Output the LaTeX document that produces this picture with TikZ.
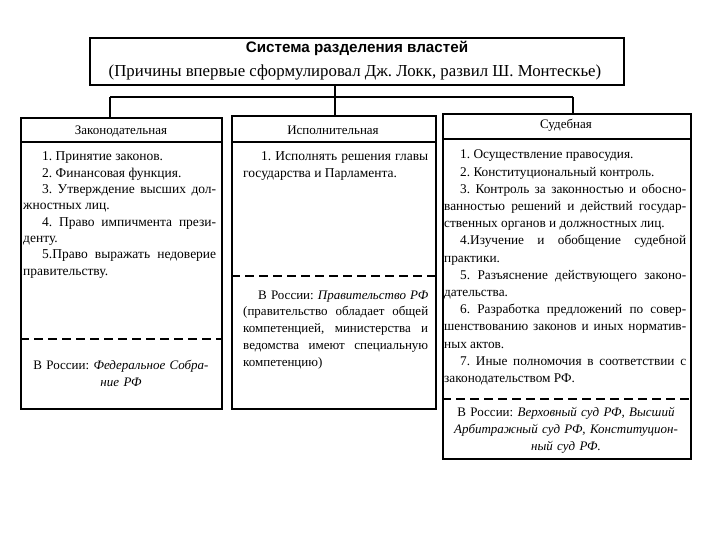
\documentclass[tikz,border=0pt]{standalone}
\usepackage{fontspec}
\setmainfont{Liberation Serif}
\newfontfamily\titlesans{Liberation Sans}
\frenchspacing
\begin{document}
\begin{tikzpicture}[x=1pt,y=-1pt,
  frame/.style={draw, line width=1.6pt, rectangle, inner sep=0pt, anchor=north west},
  rule/.style={line width=1.4pt},
  dashrule/.style={line width=1.6pt, dash pattern=on 9pt off 5pt},
  conn/.style={line width=1.3pt},
  head/.style={anchor=base, inner sep=0pt, font=\fontsize{13}{15}\selectfont},
  bodytext/.style 2 args={anchor=base west, inner sep=0pt, align=justify, font=\fontsize{#1}{#2}\selectfont,
     execute at begin node={\hyphenpenalty=10000\parindent=0pt\frenchspacing}},
  notetext/.style={anchor=base, inner sep=0pt, align=center, font=\fontsize{13}{#1}\selectfont,
     execute at begin node={\frenchspacing}}
]
\useasboundingbox (0,0) rectangle (720,540);

% title
\node[frame, minimum width=534pt, minimum height=47pt] (title) at (89,37) {};
\node[anchor=base, inner sep=0pt, font=\titlesans\bfseries\fontsize{15.2}{17}\selectfont] (titleA) at (357,53) {Система разделения властей};
\node[anchor=base, inner sep=0pt, font=\fontsize{16.8}{19}\selectfont] (titleB) at (355,77) {(Причины впервые сформулировал Дж. Локк, развил Ш. Монтескье)};

% boxes
\node[frame, minimum width=201pt, minimum height=291pt] (leg) at (20,117) {};
\node[frame, minimum width=204pt, minimum height=293pt] (exe) at (231,115) {};
\node[frame, minimum width=248pt, minimum height=345pt] (jud) at (442,113) {};

% connectors
\coordinate (jl) at (110,97);
\coordinate (jr) at (573,97);
\coordinate (jm) at (335,97);
\draw[conn] (jm |- title.south) -- (jm |- exe.north);
\draw[conn] (jl) -- (jr);
\draw[conn] (jl) -- (jl |- leg.north);
\draw[conn] (jr) -- (jr |- jud.north);

% header rules
\draw[rule] (leg.west |- 0,142) -- (leg.east |- 0,142);
\draw[rule] (exe.west |- 0,142) -- (exe.east |- 0,142);
\draw[rule] (jud.west |- 0,139) -- (jud.east |- 0,139);

% dashed rules
\draw[dashrule] (leg.west |- 0,339) -- (leg.east |- 0,339);
\draw[dashrule] (exe.west |- 0,276) -- (exe.east |- 0,276);
\draw[dashrule] (jud.west |- 0,399) -- (jud.east |- 0,399);

% headers
\node[head] (legH) at (121,135) {Законодательная};
\node[head] (exeH) at (333,135) {Исполнительная};
\node[head] (judH) at (566,129) {Судебная};

% legislative body
\node[bodytext={13.5}{16.3}, text width=193pt] (legB) at (23,161) {%
\hspace*{19pt}1. Принятие законов.\par
\hspace*{19pt}2. Финансовая функция.\par
\hspace*{19pt}3. Утверждение высших дол-\linebreak жностных лиц.\par
\hspace*{19pt}4. Право импичмента прези-\linebreak денту.\par
\hspace*{19pt}5.Право выражать недоверие\linebreak правительству.};
\node[notetext=16.5, text width=192pt] (legN) at (121,369.5) {В России: \textit{Федеральное Собра-}\\\textit{ние РФ}};

% executive body
\node[bodytext={13.5}{16.5}, text width=185pt] (exeB) at (243,161) {%
\hspace*{18pt}1. Исполнять решения главы\linebreak государства и Парламента.};
\node[bodytext={13}{16.9}, text width=185pt] (exeN) at (243,299) {%
\hspace*{15pt}\makebox[170pt][s]{В России: \textit{Правительство РФ}}\linebreak
(правительство обладает общей\linebreak компетенцией, министерства и\linebreak
ведомства имеют специальную\linebreak компетенцию)};

% judicial body
\node[bodytext={13.3}{17.2}, text width=242pt] (judB) at (444,159) {%
\hspace*{16pt}1. Осуществление правосудия.\par
\hspace*{16pt}2. Конституциональный контроль.\par
\hspace*{16pt}3. Контроль за законностью и обосно-\linebreak ванностью решений и действий государ-\linebreak ственных органов и должностных лиц.\par
\hspace*{16pt}4.Изучение и обобщение судебной\linebreak практики.\par
\hspace*{16pt}5. Разъяснение действующего законо-\linebreak дательства.\par
\hspace*{16pt}6. Разработка предложений по совер-\linebreak шенствованию законов и иных норматив-\linebreak ных актов.\par
\hspace*{16pt}7. Иные полномочия в соответствии с\linebreak законодательством РФ.};
\node[notetext=17, text width=244pt] (judN) at (566,416.5) {В России: \textit{Верховный суд РФ, Высший}\\\textit{Арбитражный суд РФ, Конституцион-}\\\textit{ный суд РФ.}};
\end{tikzpicture}
\end{document}
